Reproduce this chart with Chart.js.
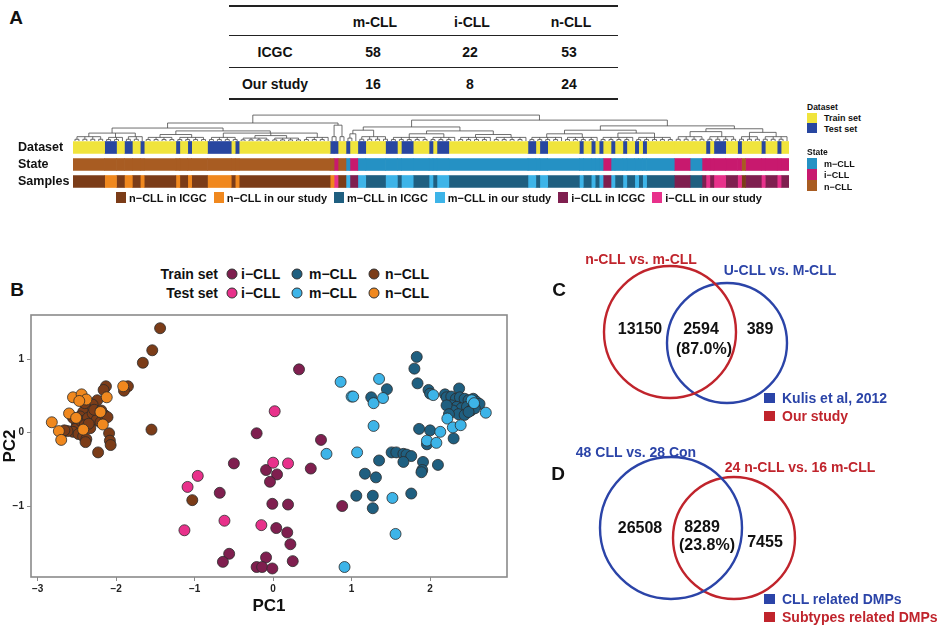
<!DOCTYPE html>
<html>
<head>
<meta charset="utf-8">
<title>CLL subtypes</title>
<script src="https://cdn.jsdelivr.net/npm/chart.js@4.4.1/dist/chart.umd.min.js"></script>
<style>
  body { margin: 0; width: 941px; height: 626px; position: relative; overflow: hidden; background: #fff;
         font-family: "Liberation Sans", Arial, sans-serif; font-weight: bold; color: #111; }
  .c { position: absolute; transform: translate(-50%, -50%); white-space: nowrap; line-height: 1; }
  .l { position: absolute; transform: translateY(-50%); white-space: nowrap; line-height: 1; }
  .hline { position: absolute; left: 229px; width: 389px; background: #222; }
  .sq { position: absolute; }
  .dot { position: absolute; width: 11px; height: 11px; border-radius: 50%; border: 1px solid #333;
         box-sizing: border-box; transform: translate(-50%, -50%); }
  canvas { position: absolute; }
</style>
</head>
<body>

<canvas id="dendro" width="716" height="36" style="left:73px;top:105px"></canvas>
<canvas id="heat" width="789" height="52" style="left:0;top:138px"></canvas>
<canvas id="pca" width="520" height="321" style="left:0;top:305px"></canvas>
<canvas id="venn" width="381" height="376" style="left:560px;top:250px"></canvas>

<script>
// ---------- data ----------
const tableCols = ['m-CLL', 'i-CLL', 'n-CLL'];
const tableRows = ['ICGC', 'Our study'];
const tableCounts = [[58, 22, 53], [16, 8, 24]];

const heatRows = ['Dataset', 'State', 'Samples'];
// samples in dendrogram order: group code + number of neighbouring samples
// code = subtype (n / m / i) + source (I = ICGC, O = our study)
const sampleRuns = [
  ['nI', 8], ['nO', 3], ['nI', 2], ['nO', 2], ['nI', 2], ['nO', 1], ['nI', 8], ['nO', 1], ['nI', 2], ['nO', 1],
  ['nI', 4], ['nO', 6], ['nI', 1], ['nO', 1], ['nI', 23], ['nO', 1], ['iO', 1], ['nI', 2], ['mO', 1], ['iI', 2],
  ['mO', 2], ['mI', 5], ['mO', 3], ['mI', 1], ['mO', 3], ['mI', 4], ['mO', 1], ['mI', 1], ['mO', 3], ['mI', 20],
  ['mO', 2], ['mI', 1], ['mO', 2], ['mI', 8], ['mO', 1], ['mI', 2], ['mO', 1], ['mI', 1], ['mO', 1], ['iI', 2],
  ['mO', 1], ['mI', 2], ['mO', 1], ['mI', 2], ['mO', 1], ['mI', 1], ['mO', 1], ['mI', 7], ['iI', 4], ['mI', 3],
  ['iI', 1], ['iO', 1], ['iI', 1], ['iO', 3], ['iI', 3], ['iO', 1], ['nI', 1], ['iI', 4], ['iO', 1], ['iI', 3],
  ['iO', 1], ['iI', 2]
];
const sampleLegend = [['nI', 'n−CLL in ICGC'], ['nO', 'n−CLL in our study'], ['mI', 'm−CLL in ICGC'],
                      ['mO', 'm−CLL in our study'], ['iI', 'i−CLL in ICGC'], ['iO', 'i−CLL in our study']];

// dendrogram: T(height, ...children), L(first sample, last sample, height)
const T = (h, ...kids) => ({ h, kids });
const L = (from, to, h) => ({ from, to, h });
const dendroTree =
  T(0.72,
    T(0.50,
      T(0.36,
        T(0.22, L(0, 8, 0.12), L(8, 13, 0.10), L(13, 18, 0.12)),
        T(0.28,
          T(0.18, L(18, 26, 0.10), L(26, 34, 0.10)),
          T(0.22, L(34, 42, 0.10), T(0.15, L(42, 50, 0.08), L(50, 58, 0.08)), L(58, 65, 0.10)))),
      T(0.44, L(65, 67, 0.30), L(67, 69, 0.30))),
    T(0.58,
      T(0.39,
        T(0.30, L(69, 72, 0.20), L(72, 80, 0.12)),
        T(0.28, T(0.20, L(80, 90, 0.10), L(90, 97, 0.10)), T(0.18, L(97, 106, 0.10), L(106, 115, 0.10)))),
      T(0.42,
        T(0.30, T(0.20, L(115, 124, 0.10), L(124, 133, 0.10)), T(0.22, L(133, 142, 0.10), L(142, 152, 0.10))),
        T(0.34, T(0.26, L(152, 160, 0.12), L(160, 168, 0.12)), T(0.24, L(168, 174, 0.12), L(174, 181, 0.12))))));

// PCA points [PC1, PC2]
const trainI = [[0.33, 0.86], [-0.21, -0.01], [0.61, -0.10], [-0.50, -0.42], [0.48, -0.49], [-0.09, -0.51],
  [0.05, -0.57], [-0.04, -0.67], [-0.68, -0.82], [-0.01, -0.97], [0.19, -0.98], [0.88, -1.00], [0.04, -1.30],
  [0.18, -1.36], [0.22, -1.52], [-0.56, -1.65], [-0.64, -1.76], [-0.09, -1.70], [0.25, -1.75], [-0.21, -1.83],
  [-0.14, -1.83], [-0.01, -1.85]];
const trainM = [[1.83, 1.03], [1.80, 0.87], [1.84, 0.67], [1.98, 0.58], [2.00, 0.53], [2.19, 0.52], [2.37, 0.60],
  [2.21, 0.48], [2.27, 0.49], [2.33, 0.46], [2.38, 0.48], [2.44, 0.46], [2.49, 0.44], [2.55, 0.46], [2.59, 0.42],
  [2.63, 0.39], [2.27, 0.37], [2.34, 0.35], [2.40, 0.33], [2.47, 0.35], [2.52, 0.30], [2.57, 0.33], [2.29, 0.30],
  [2.21, 0.37], [2.36, 0.25], [2.44, 0.24], [2.49, 0.28], [2.24, 0.25], [2.30, -0.08], [1.86, 0.05], [2.00, 0.03],
  [1.96, -0.16], [1.51, -0.27], [1.57, -0.27], [1.66, -0.29], [1.70, -0.30], [1.76, -0.32], [1.66, -0.40],
  [1.91, -0.40], [1.90, -0.51], [1.89, -0.54], [2.10, -0.44], [1.35, -0.38], [1.17, -0.56], [1.31, -0.61],
  [1.45, 0.59], [1.25, 0.48], [1.06, -0.86], [1.27, -0.86], [1.27, -1.03], [1.76, -0.83]];
const trainN = [[-2.13, 0.63], [-2.16, 0.58], [-1.85, 0.63], [-1.90, 0.57], [-2.24, 0.44], [-2.30, 0.38],
  [-2.38, 0.33], [-2.42, 0.28], [-2.46, 0.22], [-2.50, 0.12], [-2.52, 0.05], [-2.55, 0.01], [-2.48, -0.02],
  [-2.42, -0.05], [-2.38, -0.09], [-2.39, -0.13], [-2.45, 0.16], [-2.36, 0.20], [-2.30, 0.26], [-2.25, 0.17],
  [-2.20, 0.14], [-2.15, 0.24], [-2.11, 0.21], [-2.09, -0.01], [-2.08, -0.11], [-2.07, -0.17], [-2.23, -0.27],
  [-2.62, 0.02], [-2.66, 0.03], [-2.40, 0.10], [-2.33, 0.06], [-2.28, 0.31], [-2.19, 0.30], [-1.55, 0.04],
  [-1.03, -0.92], [-1.44, 1.42], [-1.54, 1.12], [-1.66, 0.95], [-2.40, 0.40], [-2.35, 0.12], [-2.55, 0.20]];
const testI = [[0.02, 0.29], [0.00, -0.41], [0.19, -0.42], [-0.96, -0.59], [-1.09, -0.74], [-0.62, -1.20],
  [-1.13, -1.33], [-0.15, -1.26]];
const testM = [[0.86, 0.69], [1.00, 0.49], [1.02, 0.49], [1.35, 0.73], [1.28, 0.40], [1.40, 0.47], [1.28, 0.09],
  [0.68, -0.29], [1.07, -0.27], [1.52, -0.89], [1.56, -1.38], [0.91, -1.83], [2.04, 0.51], [2.53, 0.44],
  [2.56, 0.40], [2.71, 0.27], [2.22, 0.19], [2.29, 0.07], [2.39, 0.10], [2.13, 0.01], [1.96, -0.11], [2.08, -0.14]];
const testN = [[-2.82, 0.14], [-2.73, 0.02], [-2.70, -0.10], [-2.55, 0.48], [-2.44, 0.52], [-2.60, 0.26],
  [-2.51, 0.20], [-2.42, 0.04], [-2.38, 0.45], [-2.20, 0.28], [-2.17, 0.11], [-2.12, 0.48], [-1.91, 0.63],
  [-2.47, 0.43]];

// Venn diagrams: [centre x, centre y, radius] in canvas units
const vennCircles = [[110, 82, 66], [167, 93, 60], [111, 278, 71], [174, 288, 61]];
const vennColours = ['#c0242c', '#2b44a8', '#2b44a8', '#c0242c'];

// ---------- colours ----------
const sampleColors = { nI: '#7b3c18', nO: '#f0881e', mI: '#1f5f80', mO: '#3db4e8', iI: '#7f1f4f', iO: '#e8318b' };
const stateColors = { n: '#a85c22', m: '#2591c4', i: '#c8196e' };
const setColors = { I: '#f0e43c', O: '#2846a0' };
const red = '#c0242c', blue = '#2b44a8';

Chart.defaults.font.family = '"Liberation Sans", Arial, sans-serif';
Chart.defaults.font.weight = 'bold';
Chart.defaults.animation = false;
Chart.defaults.plugins.legend.display = false;
Chart.defaults.plugins.tooltip.enabled = false;

// ---------- helpers for html text ----------
function put(cls, text, x, y, style) {
  const el = document.createElement('div');
  el.className = cls;
  el.textContent = text;
  el.style.left = x + 'px';
  el.style.top = y + 'px';
  Object.assign(el.style, style || {});
  document.body.appendChild(el);
  return el;
}
function box(x, y, w, h, color, extra) {
  const el = document.createElement('div');
  el.className = extra || 'sq';
  Object.assign(el.style, { left: x + 'px', top: y + 'px', width: w + 'px', height: h + 'px', background: color });
  document.body.appendChild(el);
}

// ---------- panel A: table ----------
put('c', 'A', 16, 17, { fontSize: '19px' });
[[5, 2], [35, 1], [67, 1], [98, 2]].forEach(([y, h]) => box(229, y, 389, h, '#222', 'hline'));
const colX = [375, 472, 571];
tableCols.forEach((t, i) => put('c', t, colX[i], 22, { fontSize: '14px' }));
tableRows.forEach((r, j) => {
  const y = [52, 84][j];
  put('c', r, 275, y, { fontSize: '14px' });
  tableCounts[j].forEach((v, i) => put('c', String(v), colX[i] - 2, y, { fontSize: '14px' }));
});

// ---------- panel A: dendrogram ----------
const GAP = { x: null, y: null };
function join(tops, h, segs) {
  tops.forEach(([x, y]) => segs.push({ x, y }, { x, y: h }, GAP));
  const xs = tops.map(t => t[0]);
  const x0 = Math.min(...xs), x1 = Math.max(...xs);
  segs.push({ x: x0, y: h }, { x: x1, y: h }, GAP);
  return [(x0 + x1) / 2, h];
}
function walk(node, segs) {
  if (node.kids) return join(node.kids.map(k => walk(k, segs)), node.h, segs);
  const tops = [];
  for (let i = node.from; i < node.to; i += 2) {
    if (i + 1 < node.to) tops.push(join([[i + 0.5, 0], [i + 1.5, 0]], node.h * 0.4, segs));
    else tops.push([i + 0.5, 0]);
  }
  return tops.length > 1 ? join(tops, node.h, segs) : tops[0];
}
const nSamples = sampleRuns.reduce((s, r) => s + r[1], 0);
const dendroSegs = [];
walk(dendroTree, dendroSegs);

new Chart(document.getElementById('dendro'), {
  type: 'scatter',
  data: { datasets: [{ data: dendroSegs, showLine: true, spanGaps: false, borderColor: '#4a4a4a',
                       borderWidth: 0.8, pointRadius: 0 }] },
  options: {
    responsive: false,
    layout: { padding: 0, autoPadding: false },
    scales: {
      x: { type: 'linear', min: 0, max: nSamples, display: false },
      y: { type: 'linear', min: 0, max: 1, display: false }
    }
  }
});

// ---------- panel A: annotation heatmap ----------
new Chart(document.getElementById('heat'), {
  type: 'bar',
  data: {
    labels: heatRows,
    datasets: sampleRuns.map(([code, n]) => ({
      data: [n, n, n],
      backgroundColor: [setColors[code[1]], stateColors[code[0]], sampleColors[code]],
      borderWidth: 0,
      barThickness: 12
    }))
  },
  options: {
    indexAxis: 'y',
    responsive: false,
    layout: { padding: { left: 18, right: 0, top: 1, bottom: 0 }, autoPadding: false },
    scales: {
      x: { stacked: true, min: 0, max: nSamples, display: false },
      y: {
        stacked: true,
        grid: { display: false },
        border: { display: false },
        ticks: { autoSkip: false, crossAlign: 'far', padding: 0, color: '#111', font: { size: 12.5, weight: 'bold' } },
        afterFit(s) { s.width = 55; s.paddingTop = 0; s.paddingBottom = 0; }
      }
    }
  }
});

// legend under the heatmap
let lx = 116;
sampleLegend.forEach(([code, text]) => {
  box(lx, 192, 10, 11, sampleColors[code]);
  const el = put('l', text, lx + 13, 198, { fontSize: '11px' });
  lx += 13 + el.getBoundingClientRect().width + 7;
});

// legend at the right of the heatmap
put('l', 'Dataset', 807, 107, { fontSize: '8.5px' });
[['I', 'Train set'], ['O', 'Test set']].forEach(([k, t], i) => {
  box(807, 113 + i * 10, 10, 10, setColors[k]);
  put('l', t, 824, 118 + i * 10.5, { fontSize: '9px' });
});
put('l', 'State', 807, 152, { fontSize: '8.5px' });
[['m', 'm−CLL'], ['i', 'i−CLL'], ['n', 'n−CLL']].forEach(([k, t], i) => {
  box(807, 158 + i * 11, 10, 11, stateColors[k]);
  put('l', t, 824, 164 + i * 11.3, { fontSize: '9px' });
});

// ---------- panel B: PCA ----------
put('c', 'B', 17, 289, { fontSize: '19px' });
const groups = [
  ['Test set', testI, sampleColors.iO], ['Test set', testM, sampleColors.mO], ['Test set', testN, sampleColors.nO],
  ['Train set', trainI, sampleColors.iI], ['Train set', trainM, sampleColors.mI], ['Train set', trainN, sampleColors.nI]
];
// legend: two rows, i / m / n
[['Train set', [sampleColors.iI, sampleColors.mI, sampleColors.nI], 274],
 ['Test set', [sampleColors.iO, sampleColors.mO, sampleColors.nO], 293]].forEach(([name, cols, y]) => {
  const t = put('l', name, 0, y, { fontSize: '14px' });
  t.style.left = (218 - t.getBoundingClientRect().width) + 'px';
  ['i−CLL', 'm−CLL', 'n−CLL'].forEach((lab, i) => {
    const cx = [232, 297, 374][i];
    const d = document.createElement('div');
    d.className = 'dot';
    Object.assign(d.style, { left: cx + 'px', top: y + 'px', background: cols[i] });
    document.body.appendChild(d);
    put('l', lab, cx + [9, 12, 11][i], y, { fontSize: '14px' });
  });
});

const minus = v => (v < 0 ? '−' + Math.abs(v) : String(v));
const framePlugin = {
  id: 'frame',
  afterDraw(chart) {
    const { ctx, chartArea: a } = chart;
    ctx.save();
    ctx.strokeStyle = '#8a8a8a';
    ctx.lineWidth = 1.6;
    ctx.strokeRect(a.left, a.top, a.right - a.left, a.bottom - a.top);
    ctx.restore();
  }
};

new Chart(document.getElementById('pca'), {
  type: 'scatter',
  data: {
    datasets: groups.map(([name, pts, col]) => ({
      label: name,
      data: pts.map(([x, y]) => ({ x, y })),
      backgroundColor: col,
      borderColor: '#2b2b2b',
      borderWidth: 0.8,
      pointRadius: 5.5
    }))
  },
  options: {
    responsive: false,
    layout: { padding: { top: 10, right: 13, left: 0, bottom: 0 }, autoPadding: false },
    scales: {
      x: {
        type: 'linear', min: -3.085, max: 2.98,
        ticks: { stepSize: 1, includeBounds: false, callback: minus, color: '#222', padding: 2,
                 font: { size: 10, weight: 'bold' } },
        grid: { drawOnChartArea: false, drawTicks: true, tickLength: 4, color: '#8a8a8a' },
        border: { display: false },
        title: { display: true, text: 'PC1', color: '#111', font: { size: 17, weight: 'bold' },
                 padding: { top: 0, bottom: 9 } },
        afterFit(s) { s.height = 49; }
      },
      y: {
        type: 'linear', min: -1.966, max: 1.6,
        ticks: { stepSize: 1, includeBounds: false, callback: minus, color: '#222', padding: 3,
                 font: { size: 10, weight: 'bold' } },
        grid: { drawOnChartArea: false, drawTicks: true, tickLength: 4, color: '#8a8a8a' },
        border: { display: false },
        title: { display: true, text: 'PC2', color: '#111', font: { size: 17, weight: 'bold' },
                 padding: { top: 0, bottom: 0 } },
        afterFit(s) { s.width = 31; s.paddingTop = 0; s.paddingBottom = 0; }
      }
    }
  },
  plugins: [framePlugin]
});

// ---------- panels C and D: Venn diagrams ----------
new Chart(document.getElementById('venn'), {
  type: 'bubble',
  data: {
    datasets: vennCircles.map(([x, y, r], i) => ({
      data: [{ x, y, r }],
      backgroundColor: 'rgba(0,0,0,0)',
      borderColor: vennColours[i],
      borderWidth: 2.4,
      clip: false
    }))
  },
  options: {
    responsive: false,
    layout: { padding: 0, autoPadding: false },
    scales: {
      x: { type: 'linear', min: 0, max: 381, display: false },
      y: { type: 'linear', min: 0, max: 376, reverse: true, display: false }
    }
  }
});

put('c', 'C', 559, 289, { fontSize: '19px' });
put('c', 'n-CLL vs. m-CLL', 641, 259, { fontSize: '14px', color: red });
put('c', 'U-CLL vs. M-CLL', 780, 270, { fontSize: '14px', color: blue });
put('c', '13150', 640, 329, { fontSize: '16px' });
put('c', '2594', 701, 329, { fontSize: '16px' });
put('c', '(87.0%)', 704, 349, { fontSize: '16px' });
put('c', '389', 760, 329, { fontSize: '16px' });
box(764, 393, 11, 10, blue);
put('l', 'Kulis et al, 2012', 782, 398, { fontSize: '14px', color: blue });
box(764, 411, 11, 10, red);
put('l', 'Our study', 782, 416, { fontSize: '14px', color: red });

put('c', 'D', 558, 473, { fontSize: '19px' });
put('c', '48 CLL vs. 28 Con', 636, 452, { fontSize: '14px', color: blue });
put('c', '24 n-CLL vs. 16 m-CLL', 800, 467, { fontSize: '14px', color: red });
put('c', '26508', 640, 528, { fontSize: '16px' });
put('c', '8289', 702, 527, { fontSize: '16px' });
put('c', '(23.8%)', 707, 545, { fontSize: '16px' });
put('c', '7455', 765, 542, { fontSize: '16px' });
box(764, 594, 11, 10, blue);
put('l', 'CLL related DMPs', 782, 599, { fontSize: '14px', color: blue });
box(764, 612, 11, 10, red);
put('l', 'Subtypes related DMPs', 782, 617, { fontSize: '14px', color: red });
</script>
</body>
</html>
